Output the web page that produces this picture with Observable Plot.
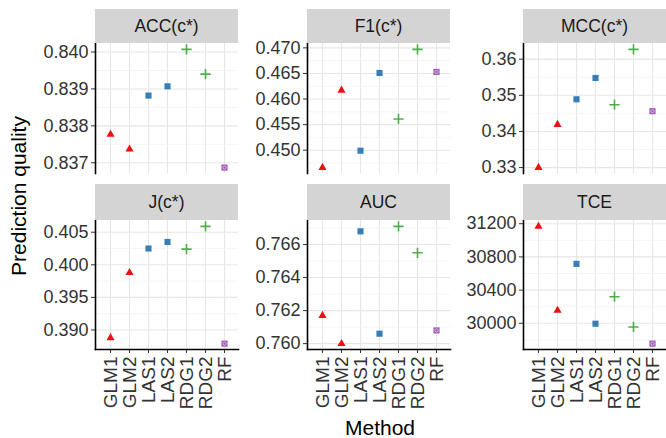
<!DOCTYPE html>
<html>
<head>
<meta charset="utf-8">
<script src="https://cdn.jsdelivr.net/npm/d3@7"></script>
<script src="https://cdn.jsdelivr.net/npm/@observablehq/plot@0.6"></script>
<style>
  html, body { margin: 0; padding: 0; background: #ffffff; }
  #chart { position: relative; width: 666px; height: 438px; overflow: hidden; font-family: "Liberation Sans", Arial, sans-serif; background: #fff; }
  .strip { position: absolute; background: #d4d4d4; color: #1a1a1a; font-size: 17.5px; display: flex; align-items: center; justify-content: center; }
  .panel { position: absolute; }
  .panel svg { overflow: visible; }
  .ttl { position: absolute; color: #000; font-size: 21px; white-space: nowrap; }
</style>
</head>
<body>
<div id="chart"></div>
<script>
// ---- data ----
const methods  = ["GLM1", "GLM2", "LAS1", "LAS2", "RDG1", "RDG2", "RF"];
const families = ["GLM", "GLM", "LAS", "LAS", "RDG", "RDG", "RF"];
const metricNames = ["ACC(c*)", "F1(c*)", "MCC(c*)", "J(c*)", "AUC", "TCE"];
const accValues = [0.83777, 0.83737, 0.83882, 0.83907, 0.84007, 0.83940, 0.83687];
const f1Values  = [0.4466, 0.4617, 0.4499, 0.4651, 0.4561, 0.4697, 0.4653];
const mccValues = [0.3300, 0.3419, 0.3489, 0.3548, 0.3474, 0.3627, 0.3456];
const jValues   = [0.3888, 0.3988, 0.4025, 0.4035, 0.4024, 0.4059, 0.3879];
const aucValues = [0.7617, 0.7600, 0.7668, 0.7606, 0.7671, 0.7655, 0.7608];
const tceValues = [31168, 30156, 30716, 29995, 30320, 29956, 29755];
const accTicks = [0.837, 0.838, 0.839, 0.840];
const f1Ticks  = [0.450, 0.455, 0.460, 0.465, 0.470];
const mccTicks = [0.33, 0.34, 0.35, 0.36];
const jTicks   = [0.390, 0.395, 0.400, 0.405];
const aucTicks = [0.760, 0.762, 0.764, 0.766];
const tceTicks = [30000, 30400, 30800, 31200];
const tickFormats = [".3f", ".3f", ".2f", ".3f", ".3f", "d"];
const yTitle = "Prediction quality";
const xTitle = "Method";

// ---- styling / layout ----
const familyStyle = {
  GLM: {symbol: "triangle2", fill: "#ee1111", r: 3.9},
  LAS: {symbol: "square2", fill: "#377eb8", r: 3.9},
  RDG: {symbol: "plus", stroke: "#4daf4a", r: 3.4, strokeWidth: 1.6},
  RF:  {symbol: "square2", fill: "#a057b5", r: 3.9}
};
const panelLefts = [95, 307, 523];
const panelW = 143;
const rows = [
  {stripTop: 9, stripH: 34, panelTop: 43, panelH: 130},
  {stripTop: 184, stripH: 36, panelTop: 220, panelH: 129}
];
const mLeft = 70, mBottom = 75;

const valueSets = [accValues, f1Values, mccValues, jValues, aucValues, tceValues];
const tickSets = [accTicks, f1Ticks, mccTicks, jTicks, aucTicks, tceTicks];

const chart = document.getElementById("chart");

metricNames.forEach((name, i) => {
  const col = i % 3, row = Math.floor(i / 3);
  const R = rows[row];
  const vals = valueSets[i];
  const ticks = tickSets[i];
  const data = methods.map((m, k) => ({method: m, family: families[k], value: vals[k]}));
  const [mn, mx] = d3.extent(vals);
  const pad = (mx - mn) * 0.05;
  const domain = [mn - pad, mx + pad];
  const step = ticks[1] - ticks[0];
  const inDomain = t => t >= domain[0] && t <= domain[1];
  const minor = [ticks[0] - step / 2, ...ticks.map(t => t + step / 2)].filter(inDomain);

  const marks = [
    Plot.gridX(methods, {stroke: "#e6e6e6", strokeOpacity: 1, strokeWidth: 1.1}),
    Plot.gridY(minor, {stroke: "#f3f3f3", strokeOpacity: 1, strokeWidth: 0.8}),
    Plot.gridY(ticks.filter(inDomain), {stroke: "#e6e6e6", strokeOpacity: 1, strokeWidth: 1.1}),
    Plot.axisY(ticks.filter(inDomain), {tickFormat: tickFormats[i], fontSize: 18, tickSize: 4, tickPadding: 3, stroke: "#333", color: "#333", label: null}),
    Plot.frame({anchor: "left", stroke: "#000", strokeWidth: 1.6})
  ];
  if (row === 1) {
    marks.push(Plot.axisX(methods, {tickRotate: -90, fontSize: 19, tickSize: 4, tickPadding: 3, stroke: "#333", color: "#333", label: null}));
    marks.push(Plot.frame({anchor: "bottom", stroke: "#000", strokeWidth: 1.6}));
  }
  for (const fam of Object.keys(familyStyle)) {
    const st = familyStyle[fam];
    const sub = data.filter(d => d.family === fam);
    marks.push(Plot.dot(sub, {x: "method", y: "value", ...st}));
    if (fam === "RF") {
      marks.push(Plot.dot(sub, {x: "method", y: "value", r: 1.6, fill: "none", stroke: "#dcbfe6", strokeWidth: 0.9}));
    }
  }

  const plot = Plot.plot({
    width: mLeft + panelW,
    height: R.panelH + (row === 1 ? mBottom : 0),
    marginLeft: mLeft, marginRight: 0, marginTop: 0,
    marginBottom: row === 1 ? mBottom : 0,
    x: {type: "point", domain: methods, padding: 0.6, axis: null},
    y: {domain, axis: null},
    style: {background: "transparent", overflow: "visible", fontFamily: "Liberation Sans, Arial, sans-serif"},
    marks
  });
  const wrap = document.createElement("div");
  wrap.className = "panel";
  wrap.style.left = (panelLefts[col] - mLeft) + "px";
  wrap.style.top = R.panelTop + "px";
  wrap.appendChild(plot);
  chart.appendChild(wrap);

  const strip = document.createElement("div");
  strip.className = "strip";
  strip.style.left = panelLefts[col] + "px";
  strip.style.top = R.stripTop + "px";
  strip.style.width = panelW + "px";
  strip.style.height = R.stripH + "px";
  strip.textContent = name;
  chart.appendChild(strip);
});

const yt = document.createElement("div");
yt.className = "ttl";
yt.textContent = yTitle;
yt.style.left = "19px";
yt.style.top = "196px";
yt.style.transform = "translate(-50%, -50%) rotate(-90deg)";
chart.appendChild(yt);

const xt = document.createElement("div");
xt.className = "ttl";
xt.textContent = xTitle;
xt.style.left = "380px";
xt.style.top = "428px";
xt.style.transform = "translate(-50%, -50%)";
chart.appendChild(xt);
</script>
</body>
</html>
